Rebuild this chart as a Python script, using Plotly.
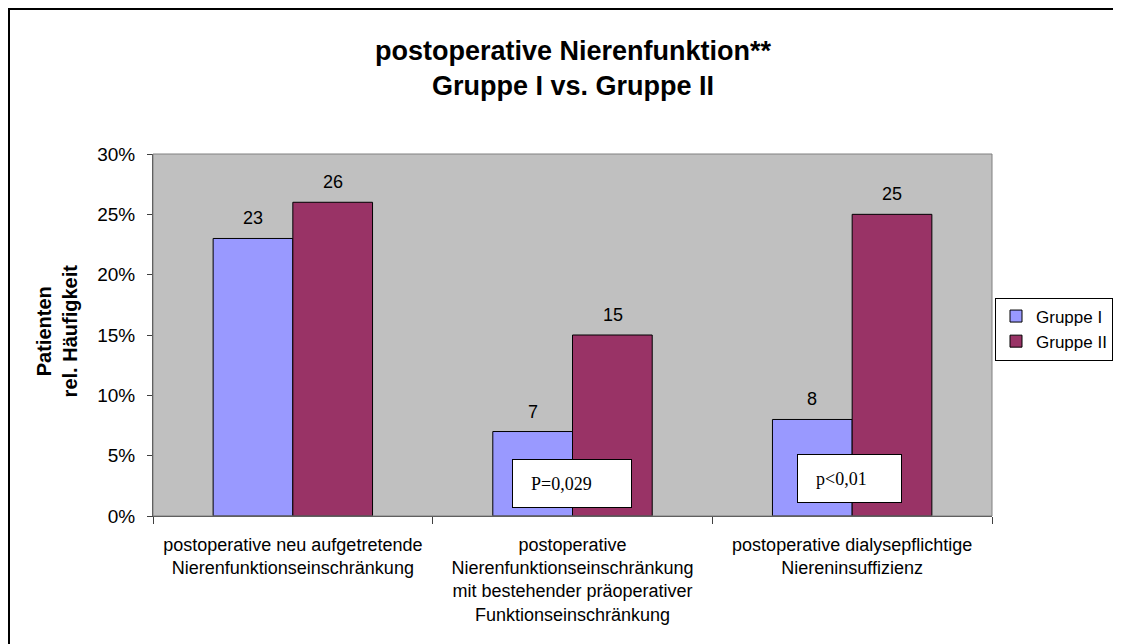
import plotly.graph_objects as go

categories = [
    "postoperative neu aufgetretende<br>Nierenfunktionseinschränkung",
    "postoperative<br>Nierenfunktionseinschränkung<br>mit bestehender präoperativer<br>Funktionseinschränkung",
    "postoperative dialysepflichtige<br>Niereninsuffizienz",
]
gruppe_1 = [23, 7, 8]
gruppe_2 = [26, 15, 25]
p_labels = ["P=0,029", "p<0,01"]
p_positions = [1, 2]
p_heights = [0.027, 0.031]
y_ticks = [0, 0.05, 0.10, 0.15, 0.20, 0.25, 0.30]

font_sans = "Liberation Sans, Arial, sans-serif"
font_serif = "Liberation Serif, Times New Roman, serif"

# plot area in figure pixels
L, T, W, H = 145, 146, 839, 362

fig = go.Figure()
fig.add_trace(go.Bar(x=categories, y=[v / 100 for v in gruppe_1], name="Gruppe I",
                     marker=dict(color="#9999FF", line=dict(color="black", width=1))))
fig.add_trace(go.Bar(x=categories, y=[v / 100 for v in gruppe_2], name="Gruppe II",
                     marker=dict(color="#993366", line=dict(color="black", width=1))))

# value labels above the bars
for vals, shift in [(gruppe_1, -40), (gruppe_2, 40)]:
    for cat, v in zip(categories, vals):
        fig.add_annotation(x=cat, y=v / 100, text=str(v), showarrow=False, xshift=shift,
                           yshift=20, font=dict(family=font_sans, size=18, color="black"))

# p-value boxes
for lab, pos, h in zip(p_labels, p_positions, p_heights):
    fig.add_annotation(x=categories[pos], y=h, text="&nbsp;&nbsp;&nbsp;&nbsp;" + lab.replace("<", "&lt;"),
                       showarrow=False,
                       font=dict(family=font_serif, size=18, color="black"),
                       bgcolor="white", bordercolor="black", borderwidth=1, borderpad=0,
                       width=118 if pos == 1 else 103, height=47, align="left",
                       xshift=-1 if pos == 1 else -3)

# y axis title
fig.add_annotation(xref="paper", yref="paper", x=(49 - L) / W, y=0.51, showarrow=False,
                   xanchor="center", yanchor="middle",
                   text="<b>Patienten<br>rel. Häufigkeit</b>", textangle=-90,
                   font=dict(family=font_sans, size=20, color="black"))

# outer frame
fig.add_shape(type="rect", xref="paper", yref="paper",
              x0=(1 - L) / W, x1=1.5, y0=-0.6, y1=(T + H - 1) / H,
              line=dict(color="black", width=2), layer="below")

fig.update_layout(
    width=1121, height=644,
    margin=dict(l=L, r=1121 - L - W, t=T, b=644 - T - H, autoexpand=False),
    paper_bgcolor="white",
    plot_bgcolor="#C0C0C0",
    barmode="group", bargap=0.43, bargroupgap=0,
    font=dict(family=font_sans, size=18, color="black"),
    title=dict(text="<b>postoperative Nierenfunktion**<br>Gruppe I vs. Gruppe II</b>",
               x=565 / 1121, xanchor="center", y=1 - 52 / 644, yanchor="middle",
               font=dict(family=font_sans, size=27, color="black")),
    legend=dict(xref="container", yref="container", x=987 / 1121, xanchor="left",
                y=1 - 321 / 644, yanchor="middle",
                bordercolor="black", borderwidth=1, bgcolor="white",
                font=dict(family=font_sans, size=17), tracegroupgap=0),
    xaxis=dict(showgrid=False, showline=True, linecolor="#404040", linewidth=1,
               mirror=False, ticks="outside", tickson="boundaries", ticklen=7,
               tickcolor="#404040", tickfont=dict(size=18), ticklabelstandoff=12),
    yaxis=dict(range=[0, 0.30], tickvals=y_ticks, tickformat=".0%", showgrid=False,
               zeroline=False, showline=True, linecolor="#404040", linewidth=1,
               ticks="outside", ticklen=5, tickcolor="#404040", tickfont=dict(size=19),
               ticklabelstandoff=8),
)
# gray border on top and right of plot area
fig.add_shape(type="rect", xref="paper", yref="paper", x0=0, x1=1, y0=0, y1=1,
              line=dict(color="#808080", width=1))

fig.write_html("out.html")
